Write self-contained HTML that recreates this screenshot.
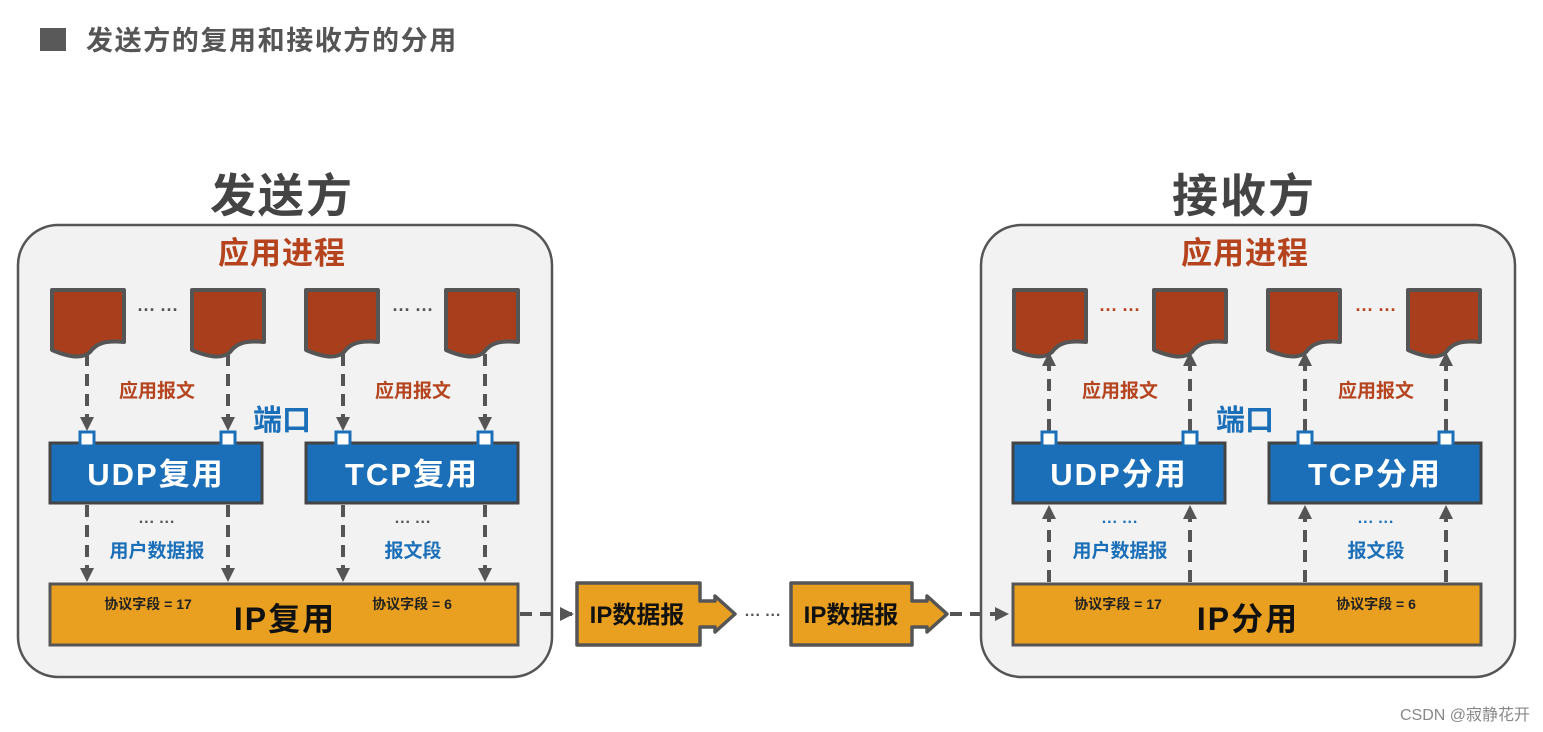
<!DOCTYPE html>
<html><head><meta charset="utf-8"><style>
html,body{margin:0;padding:0;background:#fff;}
svg{display:block;}
text{font-family:"Liberation Sans","Noto Sans CJK SC",sans-serif;font-weight:bold;}
</style></head><body>
<svg width="1543" height="732" viewBox="0 0 1543 732" xmlns="http://www.w3.org/2000/svg">
<defs>
<marker id="ah" markerWidth="14" markerHeight="14" refX="14" refY="7" orient="auto" markerUnits="userSpaceOnUse">
<path d="M0,0 L14,7 L0,14 Z" fill="#555"/></marker>
<g id="doc"><path d="M0,0 H72 V52 C52,50 44,54 38,62 C30,70 14,66 0,60 Z" fill="#a83e1c" stroke="#555" stroke-width="4" stroke-linejoin="round"/></g>
<g id="port"><rect x="-7" y="-7" width="14" height="14" fill="#fff" stroke="#1a6fb8" stroke-width="3"/></g>
</defs>
<rect x="40" y="28" width="26" height="23" fill="#595959"/>
<text x="86" y="50" font-size="27" fill="#555" letter-spacing="1.6">发送方的复用和接收方的分用</text>

<rect x="18" y="225" width="534" height="452" rx="40" fill="#f2f2f2" stroke="#555" stroke-width="2.5"/>
<rect x="981" y="225" width="534" height="452" rx="40" fill="#f2f2f2" stroke="#555" stroke-width="2.5"/>
<text x="282" y="212" font-size="46" fill="#444" text-anchor="middle" letter-spacing="2">发送方</text>
<text x="1244" y="212" font-size="46" fill="#444" text-anchor="middle" letter-spacing="2">接收方</text>
<text x="282" y="264" font-size="31" fill="#b5441e" text-anchor="middle" letter-spacing="1">应用进程</text>
<text x="1245" y="264" font-size="31" fill="#b5441e" text-anchor="middle" letter-spacing="1">应用进程</text>

<use href="#doc" x="52" y="290"/><use href="#doc" x="192" y="290"/>
<use href="#doc" x="306" y="290"/><use href="#doc" x="446" y="290"/>
<use href="#doc" x="1014" y="290"/><use href="#doc" x="1154" y="290"/>
<use href="#doc" x="1268" y="290"/><use href="#doc" x="1408" y="290"/>
<g font-size="18" fill="#555"><text x="158" y="316" text-anchor="middle">··· ···</text><text x="413" y="316" text-anchor="middle">··· ···</text></g>
<g font-size="18" fill="#b5441e"><text x="1120" y="316" text-anchor="middle">··· ···</text><text x="1376" y="316" text-anchor="middle">··· ···</text></g>

<g stroke="#555" stroke-width="4" stroke-dasharray="12,8" fill="none" marker-end="url(#ah)">
<line x1="87" y1="354" x2="87" y2="431"/><line x1="228" y1="354" x2="228" y2="431"/>
<line x1="343" y1="354" x2="343" y2="431"/><line x1="485" y1="354" x2="485" y2="431"/>
<line x1="87" y1="505" x2="87" y2="582"/><line x1="228" y1="505" x2="228" y2="582"/>
<line x1="343" y1="505" x2="343" y2="582"/><line x1="485" y1="505" x2="485" y2="582"/>
<line x1="1049" y1="431" x2="1049" y2="352"/><line x1="1190" y1="431" x2="1190" y2="352"/>
<line x1="1305" y1="431" x2="1305" y2="352"/><line x1="1446" y1="431" x2="1446" y2="352"/>
<line x1="1049" y1="582" x2="1049" y2="505"/><line x1="1190" y1="582" x2="1190" y2="505"/>
<line x1="1305" y1="582" x2="1305" y2="505"/><line x1="1446" y1="582" x2="1446" y2="505"/>
<line x1="520" y1="614" x2="574" y2="614"/>
<line x1="950" y1="614" x2="1009" y2="614"/>
</g>

<g font-size="19" fill="#b5441e" text-anchor="middle">
<text x="157" y="397">应用报文</text><text x="413" y="397">应用报文</text>
<text x="1120" y="397">应用报文</text><text x="1376" y="397">应用报文</text></g>
<text x="282" y="430" font-size="29" fill="#1a6fb8" text-anchor="middle">端口</text>
<text x="1245" y="430" font-size="29" fill="#1a6fb8" text-anchor="middle">端口</text>

<g fill="#1a6fb8" stroke="#444" stroke-width="3">
<rect x="50" y="443" width="212" height="60"/><rect x="306" y="443" width="212" height="60"/>
<rect x="1013" y="443" width="212" height="60"/><rect x="1269" y="443" width="212" height="60"/></g>
<use href="#port" x="87" y="439"/><use href="#port" x="228" y="439"/>
<use href="#port" x="343" y="439"/><use href="#port" x="485" y="439"/>
<use href="#port" x="1049" y="439"/><use href="#port" x="1190" y="439"/>
<use href="#port" x="1305" y="439"/><use href="#port" x="1446" y="439"/>
<g font-size="31" fill="#fff" text-anchor="middle" letter-spacing="2">
<text x="156" y="485">UDP复用</text><text x="412" y="485">TCP复用</text>
<text x="1119" y="485">UDP分用</text><text x="1375" y="485">TCP分用</text></g>

<g font-size="16" fill="#555" text-anchor="middle"><text x="157" y="527">··· ···</text><text x="413" y="527">··· ···</text></g>
<g font-size="16" fill="#1a6fb8" text-anchor="middle"><text x="1120" y="527">··· ···</text><text x="1376" y="527">··· ···</text></g>
<g font-size="19" fill="#1a6fb8" text-anchor="middle">
<text x="157" y="557">用户数据报</text><text x="413" y="557">报文段</text>
<text x="1120" y="557">用户数据报</text><text x="1376" y="557">报文段</text></g>

<rect x="50" y="584" width="468" height="61" fill="#e9a020" stroke="#555" stroke-width="3"/>
<rect x="1013" y="584" width="468" height="61" fill="#e9a020" stroke="#555" stroke-width="3"/>
<g font-size="14" fill="#222" text-anchor="middle">
<text x="148" y="609">协议字段 = 17</text><text x="412" y="609">协议字段 = 6</text>
<text x="1118" y="609">协议字段 = 17</text><text x="1376" y="609">协议字段 = 6</text></g>
<g font-size="32" fill="#111" text-anchor="middle" letter-spacing="2">
<text x="285" y="630">IP复用</text><text x="1248" y="630">IP分用</text></g>

<g fill="#e9a020" stroke="#555" stroke-width="3.5" stroke-linejoin="round">
<path d="M577,583 H700 V601 H715 V596 L735,614 L715,632 V627 H700 V645 H577 Z"/>
<path d="M791,583 H912 V601 H927 V596 L947,614 L927,632 V627 H912 V645 H791 Z"/></g>
<g font-size="24" fill="#111" text-anchor="middle">
<text x="637" y="623">IP数据报</text><text x="851" y="623">IP数据报</text></g>
<text x="763" y="620" font-size="16" fill="#555" text-anchor="middle">··· ···</text>

<text x="1530" y="720" font-size="16" fill="#888" text-anchor="end" style="font-weight:normal">CSDN @寂静花开</text>
</svg>
</body></html>
